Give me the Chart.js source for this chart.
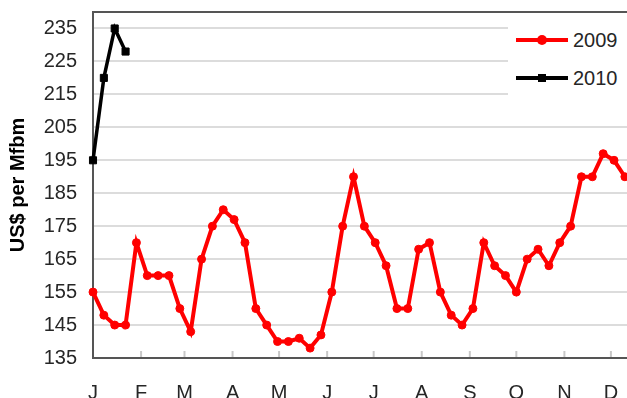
<!DOCTYPE html>
<html>
<head>
<meta charset="utf-8">
<script src="https://cdn.jsdelivr.net/npm/chart.js@4/dist/chart.umd.min.js"></script>
<style>
  html, body { margin: 0; padding: 0; background: #fff; overflow: hidden; }
  #wrap { position: relative; width: 680px; height: 410px; }
  #legend { position: absolute; left: 508px; top: 14px; width: 150px; height: 86px; background: #fff;
            font-family: "Liberation Sans", Arial, sans-serif; font-size: 20px; color: #262626; }
  .row { position: absolute; left: 0; height: 24px; }
  .sample { position: absolute; left: 8px; width: 52px; }
  .line { position: absolute; left: 0; width: 52px; top: 50%; }
  .mk { position: absolute; left: 50%; top: 50%; }
  .lbl { position: absolute; left: 65px; top: 0; line-height: 24px; }
</style>
</head>
<body>
<div id="wrap">
  <canvas id="c" width="680" height="410"></canvas>
  <div id="legend"></div>
</div>
<script>
// ---- data ----
const monthLabels = ['J','F','M','A','M','J','J','A','S','O','N','D'];
const monthStartDays = [0,31,59,90,120,151,181,212,243,273,304,334];
const yTicks = [135,145,155,165,175,185,195,205,215,225,235];
const seriesNames = ['2009','2010'];
const values2009 = [155,148,145,145,170,160,160,160,150,143,165,175,180,177,170,150,145,140,140,141,
                    138,142,155,175,190,175,170,163,150,150,168,170,155,148,145,150,170,163,160,155,
                    165,168,163,170,175,190,190,197,195,190];
const values2010 = [195,220,235,228];
const daysPerWeek = 7;

const toPoints = arr => arr.map((v, i) => ({ x: i * daysPerWeek, y: v }));
const RED = '#ff0000', BLACK = '#000000';

// legend (HTML)
const legendItems = [
  { name: seriesNames[0], color: RED, marker: 'circle', top: 28 },
  { name: seriesNames[1], color: BLACK, marker: 'square', top: 66 }
];
const lg = document.getElementById('legend');
legendItems.forEach(it => {
  const row = document.createElement('div');
  row.className = 'row';
  row.style.top = (it.top - 14) + 'px';
  row.style.width = '150px';
  const s = document.createElement('div');
  s.className = 'sample'; s.style.top = '0'; s.style.height = '24px';
  const ln = document.createElement('div');
  ln.className = 'line';
  ln.style.height = (it.marker === 'circle' ? 4 : 3.5) + 'px';
  ln.style.marginTop = (it.marker === 'circle' ? -2 : -1.75) + 'px';
  ln.style.background = it.color;
  const mk = document.createElement('div');
  mk.className = 'mk';
  if (it.marker === 'circle') {
    mk.style.width = '10px'; mk.style.height = '10px'; mk.style.borderRadius = '50%';
    mk.style.marginLeft = '-5px'; mk.style.marginTop = '-5px';
  } else {
    mk.style.width = '8px'; mk.style.height = '8px';
    mk.style.marginLeft = '-4px'; mk.style.marginTop = '-4px';
  }
  mk.style.background = it.color;
  s.appendChild(ln); s.appendChild(mk);
  const t = document.createElement('div');
  t.className = 'lbl'; t.textContent = it.name;
  row.appendChild(s); row.appendChild(t);
  lg.appendChild(row);
});

const frame = {
  id: 'frame',
  beforeDatasetsDraw(chart) {
    const { ctx, chartArea: a, scales } = chart;
    ctx.save();
    // inward tick marks on x axis
    ctx.strokeStyle = '#c8c8c8';
    ctx.lineWidth = 2;
    scales.x.ticks.forEach(t => {
      const px = scales.x.getPixelForValue(t.value);
      ctx.beginPath(); ctx.moveTo(px, a.bottom - 1); ctx.lineTo(px, a.bottom - 7); ctx.stroke();
    });
    // plot frame
    ctx.strokeStyle = '#555555';
    ctx.lineWidth = 2;
    ctx.strokeRect(a.left, a.top, a.right - a.left, a.bottom - a.top);
    ctx.restore();
  }
};

new Chart(document.getElementById('c'), {
  type: 'line',
  data: {
    datasets: [
      { label: seriesNames[0], data: toPoints(values2009), borderColor: RED, backgroundColor: RED,
        borderWidth: 4, pointRadius: 4, pointBorderWidth: 1, pointStyle: 'circle', tension: 0, clip: false },
      { label: seriesNames[1], data: toPoints(values2010), borderColor: BLACK, backgroundColor: BLACK,
        borderWidth: 3.5, pointRadius: 5, pointBorderWidth: 1, pointStyle: 'rect', tension: 0, clip: false }
    ]
  },
  options: {
    responsive: false,
    animation: false,
    events: [],
    layout: { padding: { top: 12, right: 21, bottom: 0, left: 0 } },
    plugins: { legend: { display: false }, tooltip: { enabled: false } },
    scales: {
      x: {
        type: 'linear', min: 0, max: 365,
        afterBuildTicks: s => { s.ticks = monthStartDays.map(v => ({ value: v })); },
        afterFit: s => { s.height = 52; s.paddingLeft = 0; s.paddingRight = 0; },
        grid: { display: false, drawTicks: false },
        border: { display: false },
        ticks: {
          autoSkip: false, maxRotation: 0, padding: 23, color: '#262626',
          font: { family: '"Liberation Sans", Arial, sans-serif', size: 20 },
          callback: (v, i) => monthLabels[i]
        }
      },
      y: {
        min: 135, max: 240,
        afterBuildTicks: s => { s.ticks = yTicks.map(v => ({ value: v })); },
        afterFit: s => { s.width = 93; s.paddingTop = 0; s.paddingBottom = 0; },
        grid: { color: '#dcdcdc', lineWidth: 2, drawTicks: false },
        border: { display: false },
        ticks: {
          padding: 16, color: '#262626',
          font: { family: '"Liberation Sans", Arial, sans-serif', size: 20 }
        },
        title: {
          display: true, text: 'US$ per Mfbm', color: '#000',
          padding: { top: 6, bottom: 0 },
          font: { family: '"Liberation Sans", Arial, sans-serif', size: 20, weight: 'bold' }
        }
      }
    }
  },
  plugins: [frame]
});
</script>
</body>
</html>
